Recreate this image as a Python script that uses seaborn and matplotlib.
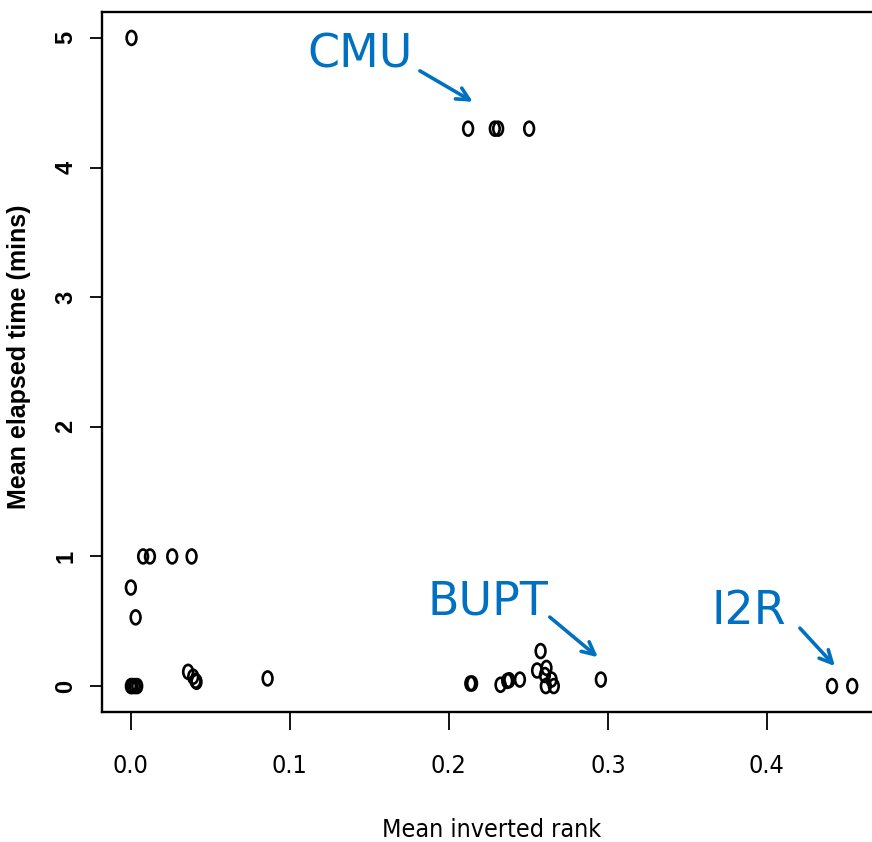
import numpy as np
import pandas as pd
import matplotlib
matplotlib.use("Agg")
import matplotlib.pyplot as plt
from matplotlib.path import Path
from matplotlib import font_manager as fm
import seaborn as sns

# ---- data ----
mean_inverted_rank = [
    0.0004,
    0.2121, 0.2289, 0.2310, 0.2505,
    0.0077, 0.0120, 0.0260, 0.0382,
    0.0000, 0.0030,
    0.0000, 0.0010, 0.0025, 0.0040,
    0.0360, 0.0392, 0.0407, 0.0413,
    0.0860,
    0.2135, 0.2146, 0.2325, 0.2367, 0.2380, 0.2447,
    0.2577, 0.2555, 0.2614, 0.2604, 0.2646, 0.2610, 0.2660,
    0.2956,
    0.4410, 0.4537,
]
mean_elapsed_mins = [
    5.00,
    4.30, 4.30, 4.30, 4.30,
    1.00, 1.00, 1.00, 1.00,
    0.76, 0.53,
    0.00, 0.00, 0.00, 0.00,
    0.11, 0.072, 0.041, 0.033,
    0.059,
    0.02, 0.02, 0.01, 0.04, 0.045, 0.05,
    0.27, 0.12, 0.14, 0.085, 0.05, 0.00, 0.00,
    0.05,
    0.00, 0.00,
]
x_ticks = [0.0, 0.1, 0.2, 0.3, 0.4]
x_tick_labels = ["0.0", "0.1", "0.2", "0.3", "0.4"]
y_ticks = [0, 1, 2, 3, 4, 5]
y_tick_labels = ["0", "1", "2", "3", "4", "5"]

annot_labels = ["CMU", "BUPT", "I2R"]
annot_text_xy = [(0.1113, 4.769), (0.1868, 0.555), (0.3654, 0.478)]
annot_arrow_from = [(0.1818, 4.746), (0.2635, 0.532), (0.4208, 0.447)]
annot_arrow_to = [(0.2151, 4.507), (0.2937, 0.223), (0.4428, 0.154)]

df = pd.DataFrame({"rank": mean_inverted_rank, "time": mean_elapsed_mins})

sns.set_style("white", rc={"text.color": "black", "axes.labelcolor": "black",
                           "xtick.color": "black", "ytick.color": "black",
                           "axes.edgecolor": "black"})
plt.rcParams["font.family"] = ["Liberation Sans", "DejaVu Sans"]

# find a narrow / condensed sans face for the x axis texts
narrow_path = None
prefs = ["liberationsansnarrow-regular", "liberationsansnarrow", "dejavusanscondensed.ttf",
         "dejavusanscondensed"]
files = [f.fname for f in fm.fontManager.ttflist]
for p in prefs:
    for fn in files:
        if p in fn.lower().replace("-", "").replace("_", "") or p in fn.lower():
            narrow_path = fn
            break
    if narrow_path:
        break


def narrow_fp(size):
    if narrow_path:
        return fm.FontProperties(fname=narrow_path, size=size)
    return fm.FontProperties(family="Liberation Sans", size=size)


W, H = 872, 842
fig = plt.figure(figsize=(W / 100, H / 100), dpi=100)
ax = fig.add_axes([102 / W, 1 - 712 / H, (881 - 102) / W, (712 - 12) / H])

circ = Path.unit_circle()
ellipse = Path(circ.vertices * np.array([0.7, 1.0]), circ.codes)

sns.scatterplot(data=df, x="rank", y="time", ax=ax, marker=ellipse,
                s=100, facecolors="none", edgecolor="black", linewidth=1.9,
                legend=False, zorder=3)

ax.set_xlim(-0.01815, 0.4718)
ax.set_ylim(-0.2, 5.2)

ax.set_xticks(x_ticks)
ax.set_xticklabels(x_tick_labels)
for t in ax.get_xticklabels():
    t.set_fontproperties(narrow_fp(18))
ax.set_yticks(y_ticks)
ax.set_yticklabels(y_tick_labels, rotation=90, va="center")
for t in ax.get_yticklabels():
    t.set_fontproperties(fm.FontProperties(family="Liberation Sans",
                                           weight="bold", size=17))
ax.tick_params(axis="x", length=13, width=1.3, pad=17, direction="out",
               bottom=True, colors="black")
ax.tick_params(axis="y", length=8.6, width=1.3, pad=9, direction="out",
               left=True, colors="black")

for s in ax.spines.values():
    s.set_linewidth(1.7)
    s.set_color("black")

ax.set_xlabel("Mean inverted rank", fontproperties=narrow_fp(18))
ax.set_ylabel("Mean elapsed time (mins)",
              fontproperties=fm.FontProperties(family="Liberation Sans",
                                               weight="bold", size=18))
ax.xaxis.set_label_coords(0.5, -(818 - 712) / 700)
ax.yaxis.set_label_coords(-(102 - 31) / (881 - 102), 0.5 + (362 - 357) / 700)

blue = "#0070C0"
for lab, txy, a0, a1 in zip(annot_labels, annot_text_xy, annot_arrow_from, annot_arrow_to):
    ax.text(txy[0], txy[1], lab, color=blue, fontsize=33, family="DejaVu Sans",
            ha="left", va="baseline", zorder=4)
    ax.annotate("", xy=a1, xytext=a0,
                arrowprops=dict(arrowstyle="->,head_length=0.9,head_width=0.45",
                                color=blue, lw=2.6, shrinkA=0, shrinkB=0))

fig.savefig("out.png", dpi=100)
